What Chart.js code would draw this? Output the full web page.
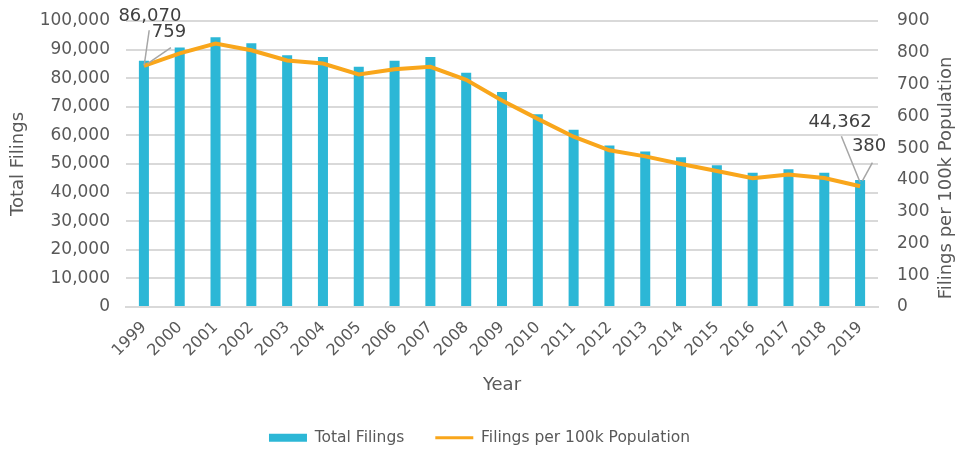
<!DOCTYPE html>
<html>
<head>
<meta charset="utf-8">
<script src="https://cdn.jsdelivr.net/npm/chart.js@4.4.1/dist/chart.umd.min.js"></script>
<style>
  html, body { margin: 0; padding: 0; background: #ffffff; }
  #wrap { width: 959px; height: 449px; }
</style>
</head>
<body>
<div id="wrap"><canvas id="chart" width="959" height="449"></canvas></div>
<script>
// Filings by year, 1999-2019
const years = ['1999', '2000', '2001', '2002', '2003', '2004', '2005', '2006', '2007', '2008',
               '2009', '2010', '2011', '2012', '2013', '2014', '2015', '2016', '2017', '2018', '2019'];
const totalFilings = [86070, 90700, 94300, 92200, 88000, 87400, 84000, 86100, 87400, 81900,
                      75200, 67400, 62000, 56500, 54400, 52400, 49600, 46900, 48200, 46900, 44362];
const filingsPer100k = [759, 798, 829, 808, 776, 766, 732, 748, 756, 715,
                        650, 592, 536, 493, 474, 450, 428, 405, 417, 406, 380];
const leftTicks = [0, 10000, 20000, 30000, 40000, 50000, 60000, 70000, 80000, 90000, 100000];
const rightTicks = [0, 100, 200, 300, 400, 500, 600, 700, 800, 900];

const TEXT = '#595959';
const LABEL_TEXT = '#404040';
const FONT = "'DejaVu Sans', sans-serif";
const BAR_COLOR = '#2CB7D6';
const LINE_COLOR = '#F9A61B';
const GRID = '#D9D9D9';
const fmt = v => v.toLocaleString('en-US');

// Value call-outs on the first and last year, with leader lines
const callouts = {
  id: 'callouts',
  afterDatasetsDraw(chart) {
    const ctx = chart.ctx;
    const bars = chart.getDatasetMeta(0).data;
    const pts = chart.getDatasetMeta(1).data;
    const a = 0, b = years.length - 1;
    const items = [
      { el: bars[a], text: fmt(totalFilings[a]), dx: 6, dy: -45, l: [5.3, -30.6, 0.3, 4.4] },
      { el: pts[a], text: fmt(filingsPer100k[a]), dx: 25, dy: -33, l: [27, -18.2, 3.7, -2.2] },
      { el: bars[b], text: fmt(totalFilings[b]), dx: -20, dy: -58, l: [-18.7, -43.9, 0, 2.1] },
      { el: pts[b], text: fmt(filingsPer100k[b]), dx: 9, dy: -39.5, l: [12.3, -23.7, 2.3, -5.3] }
    ];
    ctx.save();
    ctx.strokeStyle = '#A6A6A6';
    ctx.lineWidth = 1.5;
    items.forEach(it => {
      const x = it.el.x, y = it.el.y;
      ctx.beginPath();
      ctx.moveTo(x + it.l[0], y + it.l[1]);
      ctx.lineTo(x + it.l[2], y + it.l[3]);
      ctx.stroke();
    });
    ctx.fillStyle = LABEL_TEXT;
    ctx.font = "18px " + FONT;
    ctx.textAlign = 'center';
    ctx.textBaseline = 'middle';
    items.forEach(it => ctx.fillText(it.text, it.el.x + it.dx, it.el.y + it.dy));
    ctx.restore();
  }
};

// Right-hand axis title, reading bottom to top
const rightTitle = {
  id: 'rightTitle',
  afterDraw(chart) {
    const ctx = chart.ctx;
    const area = chart.chartArea;
    ctx.save();
    ctx.translate(chart.width - 13, (area.top + area.bottom) / 2 + 14);
    ctx.rotate(-Math.PI / 2);
    ctx.fillStyle = TEXT;
    ctx.font = "18px " + FONT;
    ctx.textAlign = 'center';
    ctx.textBaseline = 'middle';
    ctx.fillText('Filings per 100k Population', 0, 0);
    ctx.restore();
  }
};

// Fixed axis widths; the plot edges are set by the layout padding alone
const fixWidth = w => s => { s.width = w; s.paddingTop = 0; s.paddingBottom = 0; };

new Chart(document.getElementById('chart'), {
  data: {
    labels: years,
    datasets: [
      {
        type: 'bar',
        label: 'Total Filings',
        data: totalFilings,
        backgroundColor: BAR_COLOR,
        yAxisID: 'y',
        order: 1,
        categoryPercentage: 1,
        barPercentage: 0.28,
        pointStyle: 'rect'
      },
      {
        type: 'line',
        label: 'Filings per 100k Population',
        data: filingsPer100k,
        borderColor: LINE_COLOR,
        backgroundColor: LINE_COLOR,
        borderWidth: 4,
        tension: 0,
        pointRadius: 0,
        pointHoverRadius: 0,
        pointBorderWidth: 3,
        pointBorderColor: LINE_COLOR,
        pointStyle: 'line',
        yAxisID: 'y1',
        order: 0
      }
    ]
  },
  options: {
    responsive: false,
    animation: false,
    devicePixelRatio: 1,
    layout: { padding: { top: 21, left: 0, right: 0, bottom: 0 } },
    scales: {
      x: {
        grid: { display: false, drawTicks: false },
        border: { display: true, color: GRID, width: 2 },
        ticks: {
          color: TEXT, font: { family: FONT, size: 16 },
          minRotation: 45, maxRotation: 45, autoSkip: false, padding: 11
        },
        title: {
          display: true, text: 'Year', color: TEXT,
          font: { family: FONT, size: 18 }, padding: { top: 0, bottom: 3 }
        },
        afterFit(s) { s.height = 92; }
      },
      y: {
        position: 'left',
        min: 0, max: 100000,
        afterBuildTicks(s) { s.ticks = leftTicks.map(v => ({ value: v })); },
        ticks: {
          color: TEXT, font: { family: FONT, size: 17 }, padding: 16,
          callback: v => fmt(v)
        },
        grid: { color: GRID, lineWidth: 2, drawTicks: false },
        border: { display: false },
        title: {
          display: true, text: 'Total Filings', color: TEXT,
          font: { family: FONT, size: 18 }, padding: { top: 8, bottom: 0 }
        },
        afterFit: fixWidth(126)
      },
      y1: {
        position: 'right',
        min: 0, max: 900,
        afterBuildTicks(s) { s.ticks = rightTicks.map(v => ({ value: v })); },
        ticks: {
          color: TEXT, font: { family: FONT, size: 17 }, padding: 19,
          callback: v => fmt(v)
        },
        grid: { display: false, drawTicks: false },
        border: { display: false },
        afterFit: fixWidth(81)
      }
    },
    plugins: {
      legend: {
        position: 'bottom',
        maxHeight: 50,
        labels: {
          usePointStyle: true,
          pointStyleWidth: 38,
          boxHeight: 8,
          padding: 31,
          color: TEXT,
          font: { family: FONT, size: 15.5 },
          sort: (p, q) => p.datasetIndex - q.datasetIndex
        }
      },
      tooltip: { enabled: false }
    }
  },
  plugins: [callouts, rightTitle]
});
</script>
</body>
</html>
